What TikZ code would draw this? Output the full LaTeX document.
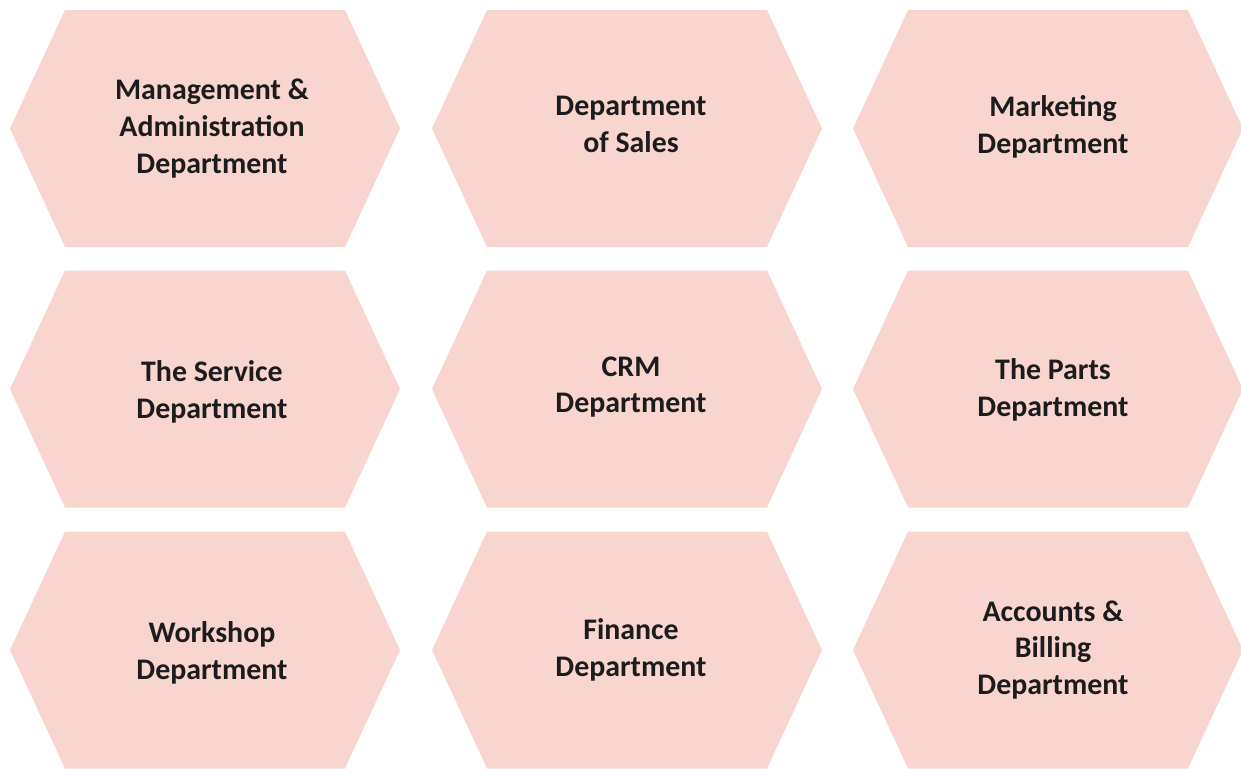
\documentclass[tikz,border=0pt]{standalone}
\usepackage{fontspec}
\setmainfont{Carlito}
\definecolor{deptFill}{RGB}{248,214,207}
\definecolor{deptText}{RGB}{28,28,30}
\tikzset{
  dept/.style={font=\bfseries\fontsize{17}{21}\selectfont, text=deptText, align=center},
  hexa/.style={fill=deptFill, draw=none}
}
\begin{document}
\begin{tikzpicture}[x=0.02cm, y=-0.02cm]
\useasboundingbox (0,0) rectangle (1241,768);
\clip (0,0) rectangle (1241,768);

% hexagon backgrounds
\foreach \cx in {205,627,1048}
  \foreach \cy in {128.5,389,650}
    \fill[hexa, shift={(\cx,\cy)}] (-195,0) -- (-140,-118.5) -- (140,-118.5)
      -- (195,0) -- (140,118.5) -- (-140,118.5) -- cycle;

\node[dept] (mgmt) at (212,128.5){Management \&\\Administration\\Department};
\node[dept] (sales) at (631,124){Department\\of Sales};
\node[dept] (mkt) at (1053,127){Marketing\\Department};

\node[dept] (service) at (212,391.5){The Service\\Department};
\node[dept] (crm) at (631,387){CRM\\Department};
\node[dept] (parts) at (1053,389.5){The Parts\\Department};

\node[dept] (workshop) at (212,652.5){Workshop\\Department};
\node[dept] (finance) at (631,649.5){Finance\\Department};
\node[dept] (billing) at (1053,650){Accounts \&\\Billing\\Department};
\end{tikzpicture}
\end{document}
